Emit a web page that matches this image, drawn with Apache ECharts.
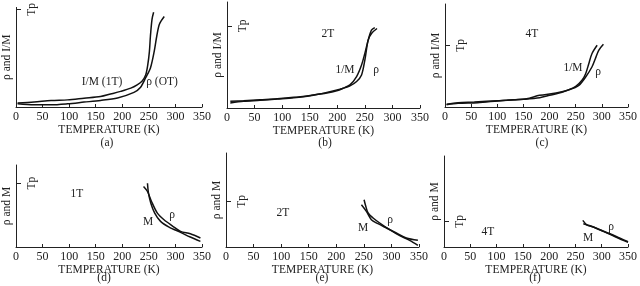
<!DOCTYPE html>
<html>
<head>
<meta charset="utf-8">
<script src="https://cdn.jsdelivr.net/npm/echarts@6/dist/echarts.min.js"></script>
<style>
  html, body { margin: 0; padding: 0; background: #fff; }
  #chart { width: 640px; height: 286px; }
</style>
</head>
<body>
<div id="chart"></div>
<script>
// x ticks (temperature, K)
var xTicks = [0, 50, 100, 150, 200, 250, 300, 350];

// panel (a) 1T
var aInvM = [[3,4],[34,5],[66,6.7],[97,7.3],[128,9],[159,10.7],[178,13.3],[197,16],[216,19.3],[228,22.7],[237.5,26.7],[244,32.7],[248,43.3],[251,56.7],[253,73],[256,90],[259,97]];
var aRho = [[3,3.3],[34,2.3],[66,2.3],[97,3.3],[128,5],[159,6.7],[191,9.3],[222,15],[234,20],[244,30],[253,40],[260,56.7],[265,73],[270,85],[279,92.7]];
// panel (b) 2T
var bInvM = [[6,6.7],[30,7.3],[60,8.3],[91,9.3],[121,10.7],[151,12.7],[181,15],[199,17.3],[211,20],[223,23.3],[235,31.7],[244,43.3],[250,55],[256,68.3],[262,78.3],[268,81]];
var bRho = [[6,5],[30,6.7],[60,7.7],[91,9],[121,10.3],[151,12.3],[181,15.7],[205,19],[223,22.3],[235,26.7],[244,33.3],[250,48.3],[256,68.3],[262,75],[272,80]];
// panel (c) 4T
var cInvM = [[3,2.7],[25,4.3],[56,5],[87.5,6],[119,6.7],[150,7.7],[181,9.3],[200,11.7],[225,15],[250,20.7],[262,26.7],[269,33.3],[275,43.3],[281,53.3],[291,61.7]];
var cRho = [[3,2.3],[25,3.7],[62.5,4.3],[100,6],[131,7.3],[156,8.3],[181,11.7],[212.5,14],[237.5,17.3],[256,21.7],[269,30],[281,40],[287.5,48.3],[294,56.7],[303,62.7]];
// panel (d) 1T
var dM = [[247.4,64],[249.3,54],[253.7,44],[261,34],[272,25.7],[288,20],[309.6,14.7],[328,10],[347,5.7]];
var dRho = [[240,60.7],[247.4,55.7],[255,45.7],[266,34],[278.5,27.3],[294,21.3],[309.6,15.7],[328,13.3],[347,9]];
// panel (e) 2T
var eM = [[250.4,47.3],[253.5,40.7],[257.7,34],[266.7,29],[278.8,24],[297,17.3],[315,11.3],[333,6.7],[348,1.7]];
var eRho = [[245.6,42.3],[254.6,35.7],[263.6,27.3],[275.6,23.3],[290.8,19],[308.9,14],[327,9],[348,6.7]];
// panel (f) 4T
var fM = [[264,26.7],[271.5,22.3],[284,20],[303,15.7],[322,11.3],[341,6.7],[350,4.7]];
var fRho = [[265,23.3],[277.8,21.3],[296.7,17.3],[315.6,13.3],[334,9],[350,5.3]];

// y-axis tops and Tp marks (arbitrary units)
var yMax = [102, 106.7, 103, 82.3, 94, 91.3];
var tpVal = [100, 82.7, 61.7, 64, 45.7, 25.7];
var yNames = ['ρ and I/M', 'ρ and I/M', 'ρ and I/M', 'ρ and M', 'ρ and M', 'ρ and M'];
var panelTags = ['(a)', '(b)', '(c)', '(d)', '(e)', '(f)'];

var font = 'Liberation Serif';
var grids = [
  { left: 15, top: 5, width: 187, height: 102 },
  { left: 227, top: 2, width: 193, height: 106 },
  { left: 445, top: 4, width: 187, height: 103 },
  { left: 14, top: 165, width: 188, height: 82 },
  { left: 226, top: 153, width: 193, height: 94 },
  { left: 444, top: 156, width: 186, height: 91 }
];
var seriesData = [[aInvM, aRho], [bInvM, bRho], [cInvM, cRho], [dM, dRho], [eM, eRho], [fM, fRho]];

var xAxes = [], yAxes = [], series = [];
grids.forEach(function (g, i) {
  xAxes.push({
    gridIndex: i, type: 'value', min: 0, max: 350, interval: 50,
    name: 'TEMPERATURE (K)', nameLocation: 'middle', nameGap: 17,
    nameTextStyle: { fontFamily: font, fontSize: 11.5, color: '#222' },
    axisLine: { lineStyle: { color: '#222', width: 1 } },
    axisTick: { inside: true, length: 3, lineStyle: { color: '#222' } },
    axisLabel: { fontFamily: font, fontSize: 12, color: '#222', margin: 4 },
    splitLine: { show: false }
  });
  yAxes.push({
    gridIndex: i, type: 'value', min: 0, max: yMax[i],
    name: yNames[i], nameLocation: 'middle', nameGap: 3, nameRotate: 90,
    nameTextStyle: { fontFamily: font, fontSize: 11.5, color: '#222' },
    axisLine: { show: true, lineStyle: { color: '#222', width: 1 } },
    axisTick: { show: true, inside: true, length: 5, customValues: [tpVal[i]], lineStyle: { color: '#222' } },
    axisLabel: {
      show: true, inside: true, customValues: [tpVal[i]], rotate: 90, margin: 10,
      formatter: function () { return 'Tp'; },
      fontFamily: font, fontSize: 11.5, color: '#222'
    },
    splitLine: { show: false }
  });
  seriesData[i].forEach(function (d) {
    series.push({
      type: 'line', xAxisIndex: i, yAxisIndex: i, data: d,
      showSymbol: false, smooth: 0.3,
      lineStyle: { color: '#111', width: 1.5 }
    });
  });
});

function txt(x, y, s) {
  return { type: 'text', x: x, y: y, style: { text: s, fontFamily: font, fontSize: 11.5, fill: '#222', align: 'center', verticalAlign: 'middle' } };
}
var tagPos = [[107, 143], [325, 143], [542, 143], [104, 278], [322, 278], [535, 278]];
var graphics = panelTags.map(function (t, i) { return txt(tagPos[i][0], tagPos[i][1], t); });
graphics = graphics.concat([
  txt(102, 82, 'I/M (1T)'), txt(162, 82, 'ρ (OT)'),
  txt(328, 34, '2T'), txt(345, 70, '1/M'), txt(376, 70, 'ρ'),
  txt(532, 34, '4T'), txt(573, 68, '1/M'), txt(598, 72, 'ρ'),
  txt(77, 194, '1T'), txt(148, 222, 'M'), txt(172, 215, 'ρ'),
  txt(283, 213, '2T'), txt(363, 228, 'M'), txt(390, 220, 'ρ'),
  txt(488, 232, '4T'), txt(588, 238, 'M'), txt(611, 227, 'ρ')
]);

var chart = echarts.init(document.getElementById('chart'));
chart.setOption({
  animation: false,
  backgroundColor: '#fff',
  grid: grids,
  xAxis: xAxes,
  yAxis: yAxes,
  series: series,
  graphic: graphics
});
</script>
</body>
</html>
